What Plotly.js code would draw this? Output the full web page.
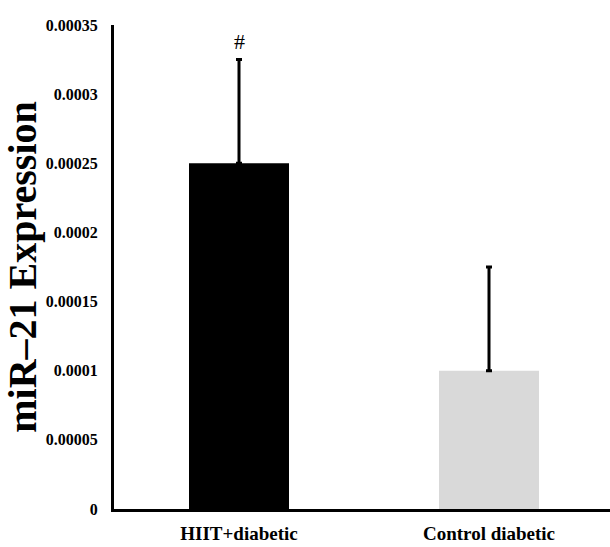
<!DOCTYPE html>
<html><head><meta charset="utf-8">
<script src="https://cdn.plot.ly/plotly-3.0.1.min.js"></script>
<style>body{margin:0;background:#fff}</style>
</head><body>
<div id="chart" style="width:610px;height:547px"></div>
<script>
const categories = ["HIIT+diabetic", "Control diabetic"];
const values = [0.00025, 0.0001];
const errors = [0.000075, 0.000075];
const colors = ["#000000", "#d9d9d9"];
const tickVals = [0, 0.00005, 0.0001, 0.00015, 0.0002, 0.00025, 0.0003, 0.00035];
const tickText = ["0", "0.00005", "0.0001", "0.00015", "0.0002", "0.00025", "0.0003", "0.00035"];
const markText = "#";
const markCategory = "HIIT+diabetic";
const markValue = 0.000338;

const serif = "Liberation Serif, Times New Roman, serif";
Plotly.newPlot("chart", [{
  type: "bar",
  x: categories,
  y: values,
  marker: {color: colors},
  error_y: {type: "data", array: errors, symmetric: false, arrayminus: [0, 0], visible: true, color: "#000", thickness: 3, width: 3}
}], {
  width: 610, height: 547,
  margin: {l: 114, r: 0, t: 25, b: 38},
  paper_bgcolor: "#fff", plot_bgcolor: "#fff",
  bargap: 0.6,
  showlegend: false,
  xaxis: {
    range: [-0.5, 1.484], showgrid: false, zeroline: false,
    showline: true, linecolor: "#000", linewidth: 3,
    ticks: "outside", ticklen: 5, tickcolor: "#fff",
    tickfont: {family: serif, size: 19, color: "#000", weight: "bold"}
  },
  yaxis: {
    range: [0, 0.00035], tickvals: tickVals, ticktext: tickText,
    showgrid: false, zeroline: false, showline: true, linecolor: "#000", linewidth: 3,
    ticks: "outside", ticklen: 10, tickcolor: "#fff",
    tickfont: {family: serif, size: 16, color: "#000", weight: "bold"},
    title: {text: "miR–21 Expression", font: {family: serif, size: 40, color: "#000", weight: "bold"}, standoff: 5}
  },
  annotations: [{x: markCategory, y: markValue, text: markText, showarrow: false,
    font: {family: serif, size: 22, color: "#000"}}]
}, {displayModeBar: false, staticPlot: true});
</script>
</body></html>
